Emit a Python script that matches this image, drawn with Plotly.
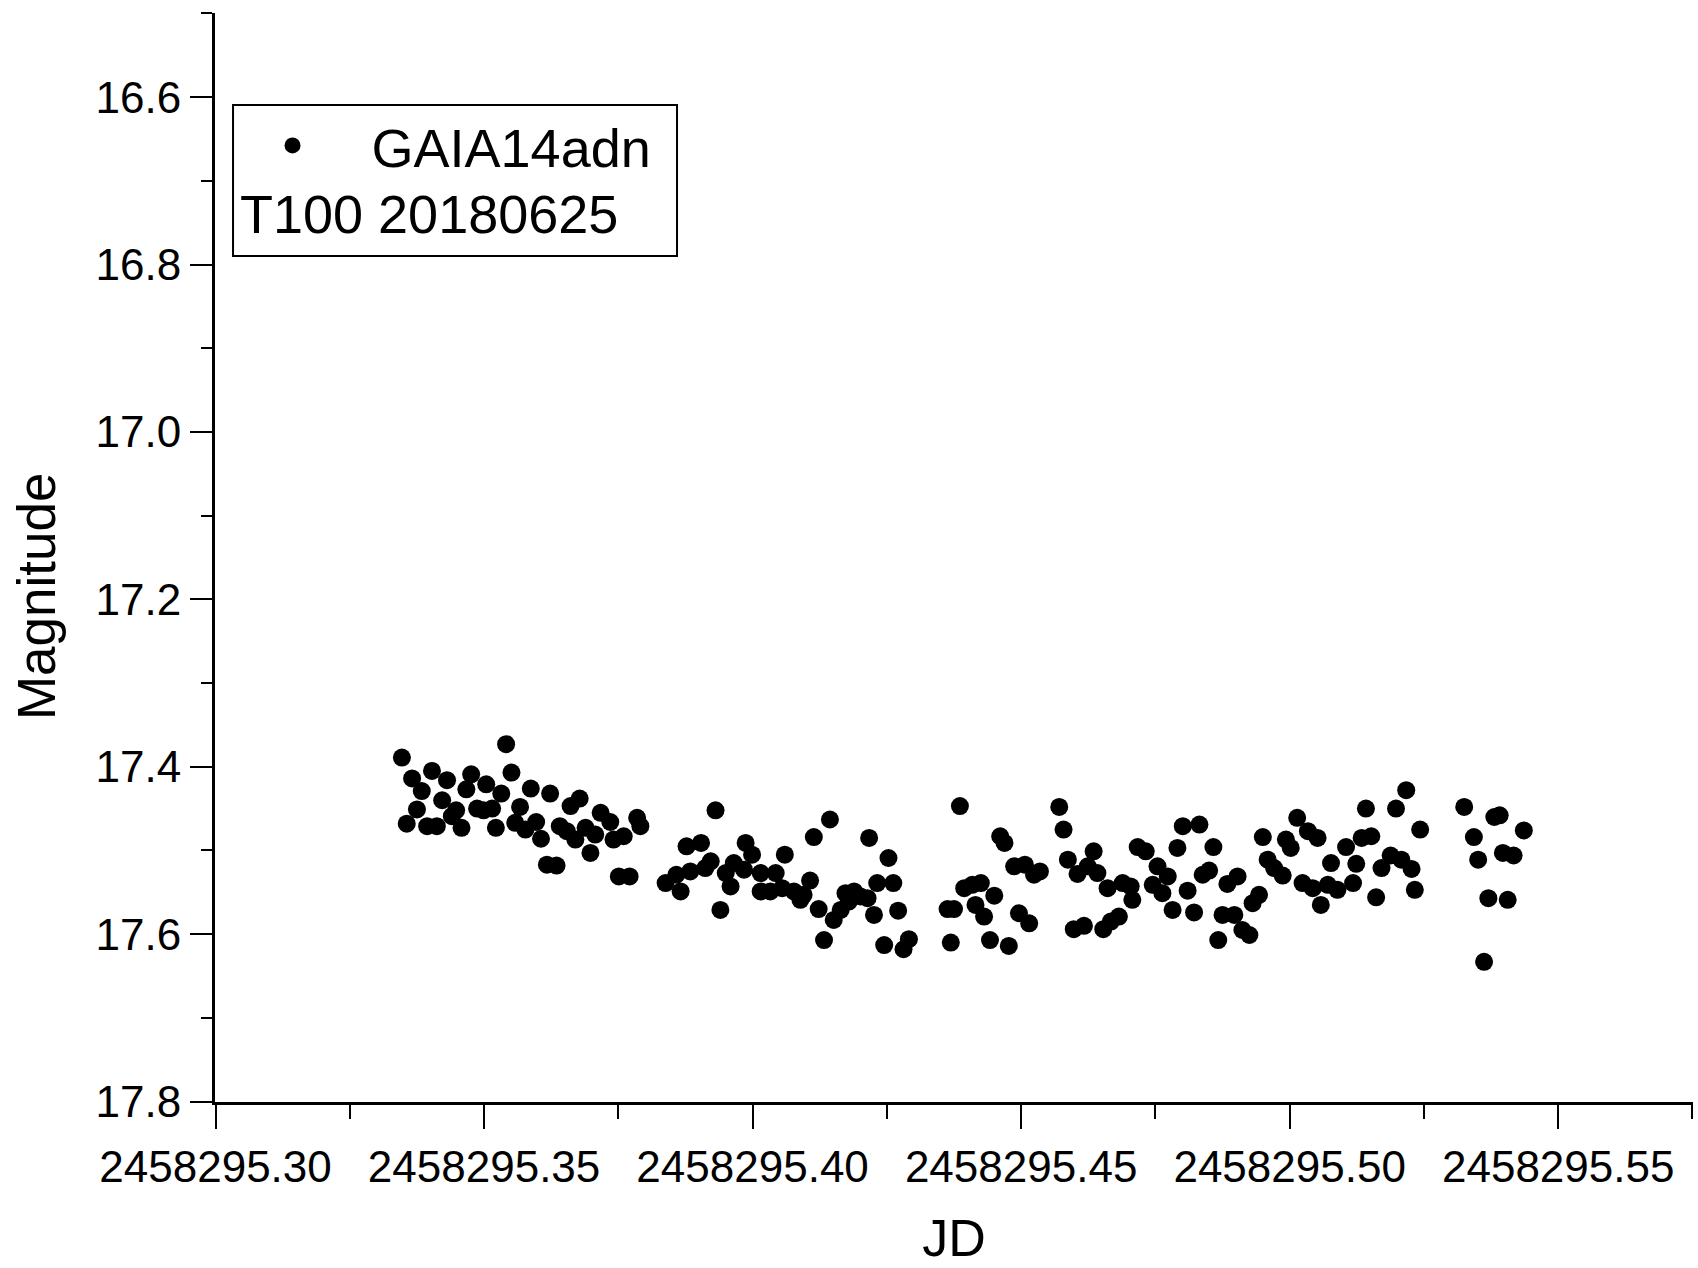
import plotly.graph_objects as go

# Julian Date of each observation
jd = [
    2458295.3347, 2458295.3541, 2458295.3366, 2458295.3403, 2458295.3431, 2458295.3476,
    2458295.3551, 2458295.3384, 2458295.3467, 2458295.3504, 2458295.3532, 2458295.3587,
    2458295.3623, 2458295.3375, 2458295.3422, 2458295.3448, 2458295.3487, 2458295.3499,
    2458295.3515, 2458295.3567, 2458295.3661, 2458295.3356, 2458295.3394, 2458295.3412,
    2458295.3440, 2458295.3458, 2458295.3522, 2458295.3558, 2458295.3577, 2458295.3597,
    2458295.3606, 2458295.3641, 2458295.3654, 2458295.3670, 2458295.3617, 2458295.3635,
    2458295.3678, 2458295.3717, 2458295.3735, 2458295.3785, 2458295.3791, 2458295.3689,
    2458295.3707, 2458295.3698, 2458295.3741, 2458295.3760, 2458295.3751, 2458295.3771,
    2458295.3931, 2458295.3877, 2458295.3904, 2458295.3922, 2458295.3912, 2458295.3884,
    2458295.3858, 2458295.3838, 2458295.3866, 2458295.3987, 2458295.3999, 2458295.3965,
    2458295.3950, 2458295.3984, 2458295.3959, 2458295.4015, 2458295.4015, 2458295.3940,
    2458295.4060, 2458295.4144, 2458295.4114, 2458295.4217, 2458295.4253, 2458295.4043,
    2458295.4033, 2458295.4055, 2458295.4077, 2458295.4089, 2458295.4107, 2458295.4095,
    2458295.4123, 2458295.4151, 2458295.4164, 2458295.4173, 2458295.4189, 2458295.4201,
    2458295.4214, 2458295.4179, 2458295.4133, 2458295.4226, 2458295.4232, 2458295.4262,
    2458295.4271, 2458295.4245, 2458295.4281, 2458295.4291, 2458295.4363, 2458295.4375,
    2458295.4369, 2458295.4386, 2458295.4461, 2458295.4469, 2458295.4487, 2458295.4507,
    2458295.4524, 2458295.4535, 2458295.4394, 2458295.4409, 2458295.4425, 2458295.4450,
    2458295.4415, 2458295.4431, 2458295.4496, 2458295.4515, 2458295.4442, 2458295.4477,
    2458295.4571, 2458295.4579, 2458295.4587, 2458295.4635, 2458295.4605, 2458295.4624,
    2458295.4642, 2458295.4661, 2458295.4689, 2458295.4704, 2458295.4707, 2458295.4598,
    2458295.4617, 2458295.4653, 2458295.4667, 2458295.4682, 2458295.4717, 2458295.4732,
    2458295.4754, 2458295.4773, 2458295.4745, 2458295.4763, 2458295.4801, 2458295.4832,
    2458295.4791, 2458295.4858, 2458295.4838, 2458295.4850, 2458295.4810, 2458295.4782,
    2458295.4822, 2458295.4884, 2458295.4903, 2458295.4875, 2458295.4897, 2458295.4867,
    2458295.4912, 2458295.4925, 2458295.4931, 2458295.4943, 2458295.4950, 2458295.5014,
    2458295.4993, 2458295.5002, 2458295.5034, 2458295.5052, 2458295.4959, 2458295.4971,
    2458295.4987, 2458295.5024, 2458295.5043, 2458295.5071, 2458295.5089, 2458295.5077,
    2458295.5058, 2458295.5217, 2458295.5142, 2458295.5198, 2458295.5243, 2458295.5105,
    2458295.5134, 2458295.5152, 2458295.5124, 2458295.5118, 2458295.5171, 2458295.5188,
    2458295.5208, 2458295.5227, 2458295.5161, 2458295.5233, 2458295.5325, 2458295.5381,
    2458295.5391, 2458295.5436, 2458295.5343, 2458295.5351, 2458295.5397, 2458295.5417,
    2458295.5370, 2458295.5406, 2458295.5362,
]

# Magnitude of each observation
magnitude = [
    17.389, 17.373, 17.414, 17.405, 17.416, 17.409,
    17.407, 17.429, 17.427, 17.421, 17.432, 17.426,
    17.432, 17.451, 17.440, 17.452, 17.450, 17.452,
    17.450, 17.448, 17.447, 17.468, 17.471, 17.471,
    17.459, 17.473, 17.473, 17.467, 17.475, 17.466,
    17.486, 17.471, 17.477, 17.487, 17.517, 17.518,
    17.438, 17.455, 17.466, 17.461, 17.471, 17.473,
    17.481, 17.503, 17.487, 17.483, 17.531, 17.531,
    17.452, 17.495, 17.491, 17.513, 17.521, 17.525,
    17.529, 17.539, 17.549, 17.491, 17.505, 17.515,
    17.527, 17.523, 17.543, 17.527, 17.549, 17.571,
    17.505, 17.463, 17.484, 17.485, 17.509, 17.527,
    17.549, 17.545, 17.549, 17.559, 17.536, 17.553,
    17.570, 17.583, 17.571, 17.551, 17.549, 17.555,
    17.557, 17.561, 17.607, 17.577, 17.539, 17.539,
    17.572, 17.613, 17.618, 17.606, 17.570, 17.570,
    17.610, 17.447, 17.483, 17.491, 17.519, 17.517,
    17.529, 17.525, 17.545, 17.541, 17.539, 17.554,
    17.565, 17.579, 17.575, 17.587, 17.607, 17.614,
    17.448, 17.475, 17.511, 17.501, 17.528, 17.519,
    17.527, 17.545, 17.539, 17.543, 17.559, 17.594,
    17.590, 17.594, 17.585, 17.579, 17.496, 17.501,
    17.519, 17.531, 17.541, 17.551, 17.471, 17.469,
    17.497, 17.496, 17.529, 17.524, 17.548, 17.571,
    17.574, 17.540, 17.531, 17.577, 17.577, 17.607,
    17.595, 17.601, 17.563, 17.553, 17.484, 17.461,
    17.487, 17.497, 17.477, 17.485, 17.511, 17.521,
    17.530, 17.539, 17.545, 17.541, 17.547, 17.515,
    17.565, 17.428, 17.450, 17.450, 17.475, 17.496,
    17.485, 17.483, 17.516, 17.539, 17.521, 17.506,
    17.511, 17.522, 17.556, 17.547, 17.448, 17.460,
    17.458, 17.476, 17.484, 17.511, 17.503, 17.506,
    17.557, 17.559, 17.633,
]

series_name = "GAIA14adn"
legend_note = "T100 20180625"
x_title = "JD"
y_title = "Magnitude"

FONT = "Liberation Sans, Arial, sans-serif"

fig = go.Figure()
fig.add_trace(go.Scatter(
    x=jd, y=magnitude, mode="markers", name=series_name,
    marker=dict(color="black", size=18, line=dict(width=0)),
))

fig.update_layout(
    width=1698, height=1268,
    margin=dict(l=215, r=5, t=13, b=166),
    paper_bgcolor="white", plot_bgcolor="white",
    font=dict(family=FONT, color="black"),
    showlegend=True,
    legend=dict(
        x=-0.001, y=0.878, xanchor="left", yanchor="middle",
        bgcolor="rgba(0,0,0,0)", borderwidth=0,
        font=dict(size=54, family=FONT, color="black"),
        itemwidth=148,
    ),
)

fig.update_xaxes(
    range=[2458295.2999, 2458295.5751],
    showline=True, linecolor="black", linewidth=3, mirror=False,
    ticks="outside", ticklen=24, tickwidth=2, tickcolor="black",
    tick0=2458295.30, dtick=0.05, tickformat=".2f",
    tickfont=dict(size=44, family=FONT, color="black"),
    showgrid=False, zeroline=False,
    minor=dict(dtick=0.025, ticks="outside", ticklen=14, tickwidth=2,
               tickcolor="black", showgrid=False),
    title=dict(text=x_title, font=dict(size=52, family=FONT, color="black"), standoff=30),
)

fig.update_yaxes(
    range=[17.8005, 16.4995],
    showline=True, linecolor="black", linewidth=3, mirror=False,
    ticks="outside", ticklen=22, tickwidth=2, tickcolor="black",
    tick0=16.6, dtick=0.2, tickformat=".1f",
    tickfont=dict(size=44, family=FONT, color="black"),
    showgrid=False, zeroline=False,
    minor=dict(dtick=0.1, ticks="outside", ticklen=11, tickwidth=2,
               tickcolor="black", showgrid=False),
)

# y-axis title, placed slightly below the axis centre as in the original
fig.add_annotation(text=y_title, xref="paper", yref="paper",
                   x=-0.1211, y=0.4646, xanchor="center", yanchor="middle",
                   textangle=-90, showarrow=False,
                   font=dict(size=53, family=FONT, color="black"))

# legend frame and second line of legend text
fig.add_shape(type="rect", xref="paper", yref="paper",
              x0=0.0122, x1=0.3126, y0=0.7769, y1=0.9155,
              line=dict(color="black", width=2), fillcolor="rgba(0,0,0,0)")
fig.add_annotation(text=legend_note, xref="paper", yref="paper",
                   x=0.0156, y=0.8154, xanchor="left", yanchor="middle",
                   showarrow=False, font=dict(size=54, family=FONT, color="black"))

fig.write_html("out.html")
